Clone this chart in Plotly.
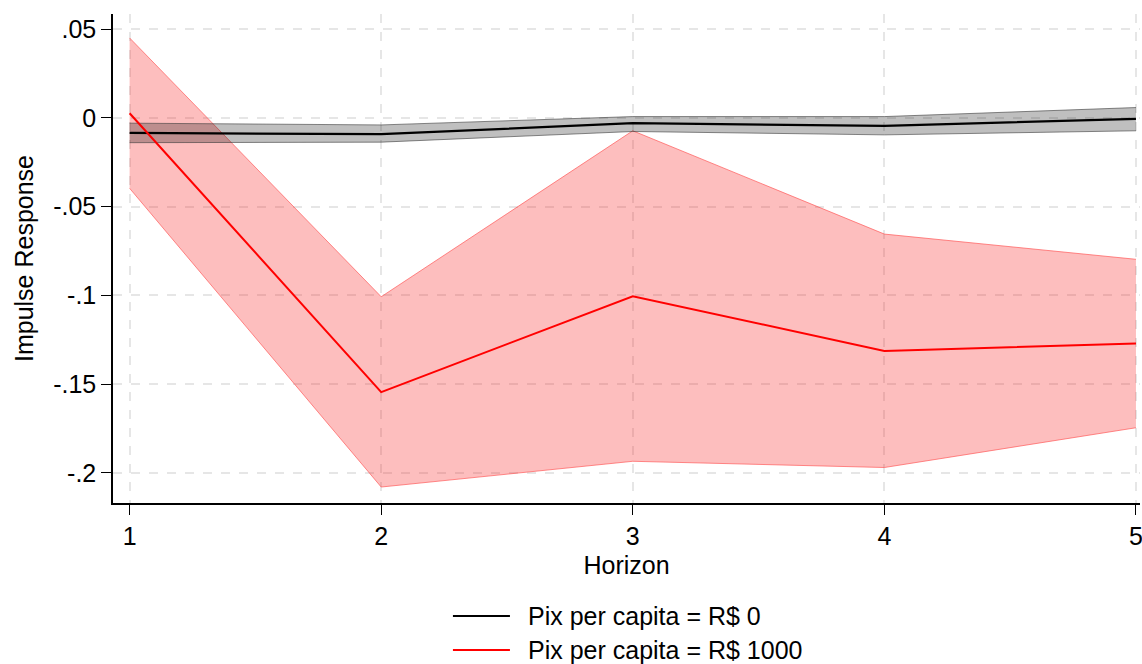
import plotly.graph_objects as go

horizon = [1, 2, 3, 4, 5]

# Pix per capita = R$ 0
irf0 = [-0.0085, -0.0092, -0.0030, -0.0045, -0.0006]
irf0_hi = [-0.0030, -0.0040, 0.0007, 0.0007, 0.0058]
irf0_lo = [-0.0140, -0.0137, -0.0077, -0.0096, -0.0073]

# Pix per capita = R$ 1000
irf1 = [0.0026, -0.1545, -0.1005, -0.1313, -0.1272]
irf1_hi = [0.0450, -0.1008, -0.0073, -0.0655, -0.0797]
irf1_lo = [-0.0397, -0.2080, -0.1935, -0.1970, -0.1746]

series_names = ["Pix per capita = R$ 0", "Pix per capita = R$ 1000"]
series_colors = ["black", "red"]

ytick_vals = [0.05, 0, -0.05, -0.1, -0.15, -0.2]
ytick_text = [".05", "0", "-.05", "-.1", "-.15", "-.2"]
xtick_text = ["1", "2", "3", "4", "5"]

FONT = "Liberation Sans, Arial, Helvetica, sans-serif"
FS = 25

fig = go.Figure()

# red confidence band
fig.add_trace(go.Scatter(x=horizon, y=irf1_hi, mode="lines",
                         line=dict(color="rgba(255,90,90,0.7)", width=1),
                         showlegend=False, hoverinfo="skip"))
fig.add_trace(go.Scatter(x=horizon, y=irf1_lo, mode="lines", fill="tonexty",
                         fillcolor="rgba(250,40,40,0.30)",
                         line=dict(color="rgba(255,90,90,0.7)", width=1),
                         showlegend=False, hoverinfo="skip"))
# gray confidence band
fig.add_trace(go.Scatter(x=horizon, y=irf0_hi, mode="lines",
                         line=dict(color="rgba(60,60,60,0.6)", width=1),
                         showlegend=False, hoverinfo="skip"))
fig.add_trace(go.Scatter(x=horizon, y=irf0_lo, mode="lines", fill="tonexty",
                         fillcolor="rgba(0,0,0,0.25)",
                         line=dict(color="rgba(60,60,60,0.6)", width=1),
                         showlegend=False, hoverinfo="skip"))
# point estimates
fig.add_trace(go.Scatter(x=horizon, y=irf0, mode="lines",
                         line=dict(color=series_colors[0], width=2.2),
                         name=series_names[0], showlegend=False))
fig.add_trace(go.Scatter(x=horizon, y=irf1, mode="lines",
                         line=dict(color=series_colors[1], width=2),
                         name=series_names[1], showlegend=False))

# legend drawn below the plot (keeps bottom margin fixed)
legend_y = [-0.2311, -0.3006]
for name, color, ly in zip(series_names, series_colors, legend_y):
    fig.add_shape(type="line", xref="paper", yref="paper",
                  x0=0.331, x1=0.3865, y0=ly, y1=ly,
                  line=dict(color=color, width=2.2))
    fig.add_annotation(xref="paper", yref="paper", x=0.402, y=ly,
                       xanchor="left", yanchor="middle", showarrow=False,
                       text=name, font=dict(size=FS, family=FONT, color="black"))

fig.update_layout(
    width=1142, height=664,
    paper_bgcolor="white", plot_bgcolor="white",
    margin=dict(l=113, r=2, t=14, b=161),
    font=dict(family=FONT, size=FS, color="black"),
    showlegend=False,
)

fig.update_xaxes(
    range=[0.934, 5.016], tickvals=horizon, ticktext=xtick_text,
    showline=True, linecolor="black", linewidth=1.5,
    ticks="outside", ticklen=10, tickcolor="black", tickwidth=1.2,
    showgrid=True, gridcolor="#E6E6E6", griddash="dash", gridwidth=1.5,
    zeroline=False, automargin=False, ticklabeloverflow="allow",
    title=dict(text="Horizon", font=dict(size=FS, family=FONT), standoff=8),
    tickfont=dict(size=FS, family=FONT),
)
fig.update_yaxes(
    range=[-0.2170, 0.0585], tickvals=ytick_vals, ticktext=ytick_text,
    showline=True, linecolor="black", linewidth=1.5,
    ticks="outside", ticklen=10, tickcolor="black", tickwidth=1.2,
    showgrid=True, gridcolor="#E6E6E6", griddash="dash", gridwidth=1.5,
    zeroline=False, automargin=False,
    title=dict(text="Impulse Response", font=dict(size=FS, family=FONT), standoff=12),
    tickfont=dict(size=FS, family=FONT),
)

fig.write_html("out.html", config={"displayModeBar": False},
               post_script="document.body.style.margin='0';")
